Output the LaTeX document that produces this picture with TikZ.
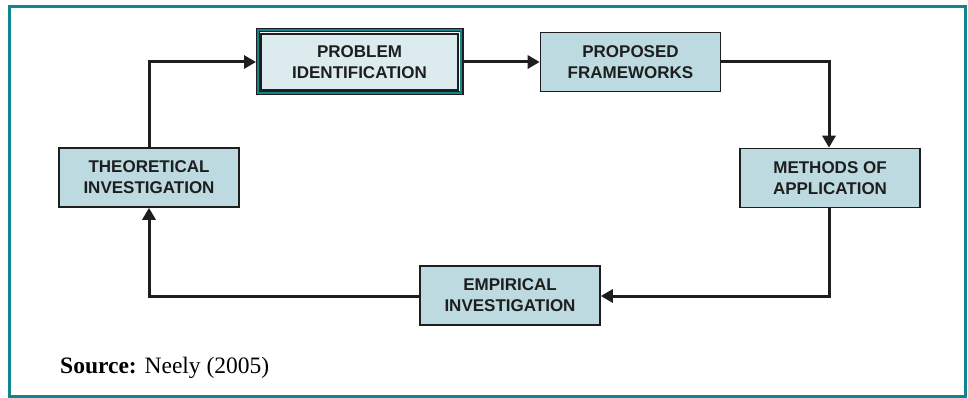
\documentclass[tikz,border=0pt]{standalone}
\usepackage{fontspec}
\setmainfont{Liberation Serif}
\setsansfont{Liberation Sans}
\usetikzlibrary{arrows.meta}
\definecolor{teal}{HTML}{0F8590}
\definecolor{boxfill}{HTML}{BCDAE0}
\definecolor{boxfilllight}{HTML}{DCEBEE}
\definecolor{ink}{HTML}{1E1E1E}
\tikzset{
  stage/.style={draw=ink, line width=1.6pt, fill=boxfill, minimum width=180pt, minimum height=59pt,
    align=center, inner sep=0pt, font=\sffamily\bfseries\fontsize{17}{21}\selectfont, text=ink},
  conn/.style={draw=ink, line width=3pt, -{Triangle[length=12pt,width=13pt]}},
}
\begin{document}
\begin{tikzpicture}[x=1pt,y=-1pt]
\useasboundingbox (0,0) rectangle (968,398);
% frame
\draw[teal, line width=3pt] (9.5,6.5) rectangle (965.5,396);
% problem identification (double framed)
\draw[ink, line width=1pt, fill=ink] (256,28.5) rectangle (463,95);
\draw[teal, line width=2pt] (258,30.5) rectangle (461,93);
\fill[white] (259.5,32) rectangle (459.5,91.5);
\node[stage, fill=boxfilllight, minimum width=197pt, minimum height=56pt] (prob) at (359.5,61.75) {PROBLEM\\IDENTIFICATION};
\node[stage] (prop) at (630.5,62) {PROPOSED\\FRAMEWORKS};
\node[stage] (meth) at (830,178) {METHODS OF\\APPLICATION};
\node[stage] (emp) at (510,295.5) {EMPIRICAL\\INVESTIGATION};
\node[stage] (theo) at (149,177.5) {THEORETICAL\\INVESTIGATION};
\coordinate (c1) at (149,62);
\coordinate (c2) at (829,62);
\coordinate (c3) at (829,296);
\coordinate (c4) at (149,296);
\draw[conn] (theo.north) -- (c1) -- (256,62);
\draw[conn] (463,62) -- (prop.west);
\draw[conn] (prop.east) -- (c2) -- (meth.north -| c2);
\draw[conn] (meth.south -| c3) -- (c3) -- (emp.east |- c3);
\draw[conn] (emp.west |- c4) -- (c4) -- (theo.south);
\node[anchor=base west, font=\fontsize{23.5}{26}\selectfont, inner sep=0pt] (src) at (60,373) {\textbf{Source:} Neely (2005)};
\end{tikzpicture}
\end{document}
